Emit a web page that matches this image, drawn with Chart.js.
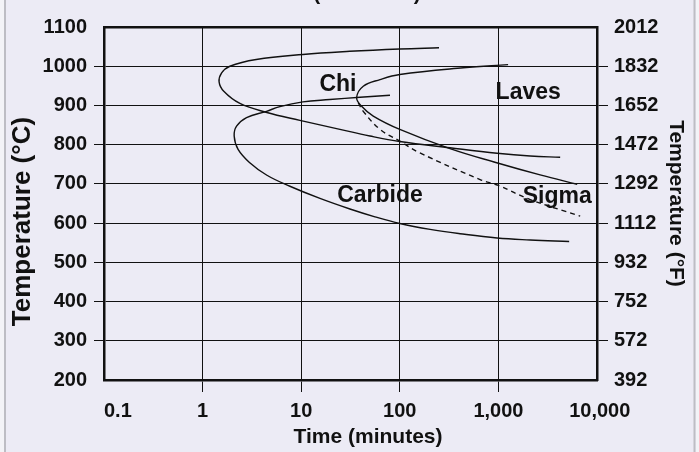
<!DOCTYPE html>
<html><head><meta charset="utf-8">
<script src="https://cdn.jsdelivr.net/npm/chart.js@4.4.1/dist/chart.umd.min.js"></script>
<style>html,body{margin:0;padding:0;background:#ECEBF5;overflow:hidden}canvas{display:block}</style>
</head><body>
<canvas id="c" width="699" height="452"></canvas>
<script>
// ---- axis ticks ----
const xTickValues = [0.1, 1, 10, 100, 1000, 10000];
const xTickLabels = ['0.1', '1', '10', '100', '1,000', '10,000'];
const celsiusTicks = [200, 300, 400, 500, 600, 700, 800, 900, 1000, 1100];
const fahrenheitLabels = ['392', '572', '752', '932', '1112', '1292', '1472', '1652', '1832', '2012'];

// ---- curves (time in minutes, temperature in °C) ----
const chiTime = [250, 100, 31, 10.4, 3.5, 1.89, 1.56, 1.47, 1.64, 2.39, 4.49, 9.7, 24.7, 49.8, 100, 323, 970, 2100, 4230];
const chiTemp = [1047, 1044, 1038, 1030, 1017, 1000, 983, 960, 936, 905, 882, 862, 839, 822, 808, 792, 778, 771, 768];

const carbideTime = [79.5, 39.5, 19.5, 10.4, 6.08, 4.45, 2.79, 2.21, 2.09, 2.29, 3.01, 4.49, 7.68, 15.5, 31.2, 56, 100, 203, 408, 970, 2100, 5220];
const carbideTemp = [926, 921, 915, 909, 897, 885, 869, 847, 822, 788, 754, 722, 694, 663, 636, 616, 599, 584, 573, 562, 557, 553];

const lavesTime = [1254, 441, 100, 63, 42.6, 36.5, 41, 53.8, 100, 323, 960, 2650, 6300];
const lavesTemp = [1004, 996, 979, 966, 949, 920, 898, 873, 839, 790, 754, 723, 699];

const sigmaTime = [37.9, 42.6, 63, 100, 160, 652, 1000, 2100, 6750];
const sigmaTemp = [907, 885, 839, 809, 779, 711, 696, 660, 618];

// ---- phase labels ----
const phaseNames = ['Chi', 'Laves', 'Carbide', 'Sigma'];
const phaseTime = [23.6, 2005, 63, 3945];
const phaseTemp = [953, 933, 671, 668];

const FONT = '"Liberation Sans", Arial, Helvetica, sans-serif';
const INK = '#111111';

function pts(xs, ys) { return xs.map((x, i) => ({ x: x, y: ys[i] })); }
function curve(label, xs, ys, dash) {
  return {
    label: label, data: pts(xs, ys), showLine: true, fill: false,
    borderColor: INK, borderWidth: 1.4, borderDash: dash || [],
    pointRadius: 0, pointHoverRadius: 0, tension: 0.4,
    xAxisID: 'x', yAxisID: 'y'
  };
}

const bgPlugin = {
  id: 'bg',
  beforeDraw(chart) {
    const ctx = chart.ctx, w = chart.width, h = chart.height;
    ctx.save();
    ctx.fillStyle = '#ECEBF5';
    ctx.fillRect(0, 0, w, h);
    ctx.fillStyle = '#F3F3F7';
    ctx.fillRect(0, 0, 4, h);
    ctx.fillRect(w - 3, 0, 3, h);
    ctx.strokeStyle = '#BDBDC4';
    ctx.lineWidth = 2;
    ctx.beginPath();
    ctx.moveTo(5, 0); ctx.lineTo(5, h);
    ctx.moveTo(w - 4.5, 0); ctx.lineTo(w - 4.5, h);
    ctx.stroke();
    ctx.restore();
  }
};

const phaseLabelPlugin = {
  id: 'phaseLabels',
  afterDatasetsDraw(chart) {
    const ctx = chart.ctx, xs = chart.scales.x, ys = chart.scales.y;
    ctx.save();
    ctx.font = 'bold 23px ' + FONT;
    ctx.fillStyle = INK;
    ctx.textAlign = 'center';
    ctx.textBaseline = 'middle';
    phaseNames.forEach((n, i) => {
      ctx.fillText(n, xs.getPixelForValue(phaseTime[i]), ys.getPixelForValue(phaseTemp[i]));
    });
    ctx.restore();
  }
};

const cutTitlePlugin = {
  id: 'cutTitle',
  afterDraw(chart) {
    const ctx = chart.ctx;
    ctx.save();
    ctx.font = 'bold 21px ' + FONT;
    ctx.fillStyle = INK;
    ctx.textAlign = 'center';
    ctx.textBaseline = 'alphabetic';
    ctx.fillText('(' + ' '.repeat(16) + ')', 367, 0);
    ctx.restore();
  }
};

function edgeTickColor(ctx) {
  const n = ctx.scale && ctx.scale.ticks ? ctx.scale.ticks.length : 0;
  return (ctx.index === 0 || ctx.index === n - 1) ? 'rgba(0,0,0,0)' : INK;
}

new Chart(document.getElementById('c'), {
  type: 'scatter',
  data: {
    datasets: [
      curve('Chi', chiTime, chiTemp),
      curve('Carbide', carbideTime, carbideTemp),
      curve('Laves', lavesTime, lavesTemp),
      curve('Sigma', sigmaTime, sigmaTemp, [5, 4])
    ]
  },
  options: {
    responsive: false,
    animation: false,
    devicePixelRatio: 1,
    events: [],
    layout: { padding: { top: 27, left: 0, right: 0, bottom: 0 } },
    plugins: { legend: { display: false }, title: { display: false }, tooltip: { enabled: false } },
    scales: {
      x: {
        type: 'logarithmic', position: 'bottom', min: 0.1, max: 10000,
        afterBuildTicks: s => { s.ticks = xTickValues.map(v => ({ value: v })); },
        afterFit: s => { s.height = 72; },
        ticks: {
          autoSkip: false, maxRotation: 0, minRotation: 0, padding: 7, color: INK,
          font: { family: FONT, size: 20, weight: 'bold' },
          callback: (v, i) => (i === 0 ? '     ' : (i === xTickLabels.length - 1 ? ' ' : '')) + xTickLabels[i]
        },
        grid: { color: INK, lineWidth: 1, tickLength: 12, tickColor: edgeTickColor, tickWidth: 1 },
        border: { display: true, color: INK, width: 2.5 },
        title: { display: true, text: '      Time (minutes)', color: INK,
                 font: { family: FONT, size: 21, weight: 'bold' }, padding: { top: 0, bottom: 2.4 } }
      },
      x2: {
        type: 'linear', position: 'top', min: 0, max: 1, display: true,
        ticks: { display: false },
        grid: { display: false, drawTicks: false },
        border: { display: true, color: INK, width: 2.5 },
        afterFit: s => { s.height = 0; }
      },
      y: {
        type: 'linear', position: 'left', min: 200, max: 1100,
        afterBuildTicks: s => { s.ticks = celsiusTicks.map(v => ({ value: v })); },
        afterFit: s => { s.width = 104; },
        ticks: { padding: 7, color: INK, font: { family: FONT, size: 20, weight: 'bold' },
                 callback: v => String(v) },
        grid: { color: INK, lineWidth: 1, tickLength: 10, tickColor: edgeTickColor },
        border: { display: true, color: INK, width: 2.5 },
        title: { display: true, text: 'Temperature (°C)     ', color: INK,
                 font: { family: FONT, size: 26, weight: 'bold' }, padding: { top: 7, bottom: 0 } }
      },
      y2: {
        type: 'linear', position: 'right', min: 200, max: 1100,
        afterBuildTicks: s => { s.ticks = celsiusTicks.map(v => ({ value: v })); },
        afterFit: s => { s.width = 102; },
        ticks: { padding: 6, color: INK, font: { family: FONT, size: 20, weight: 'bold' },
                 callback: (v, i) => fahrenheitLabels[i] },
        grid: { drawOnChartArea: false, color: INK, tickLength: 11, tickColor: edgeTickColor },
        border: { display: true, color: INK, width: 2.5 },
        title: { display: true, text: 'Temperature (°F)', color: INK,
                 font: { family: FONT, size: 21, weight: 'bold' }, padding: { top: 10.4, bottom: 0 } }
      }
    }
  },
  plugins: [bgPlugin, phaseLabelPlugin, cutTitlePlugin]
});
</script>
</body></html>
